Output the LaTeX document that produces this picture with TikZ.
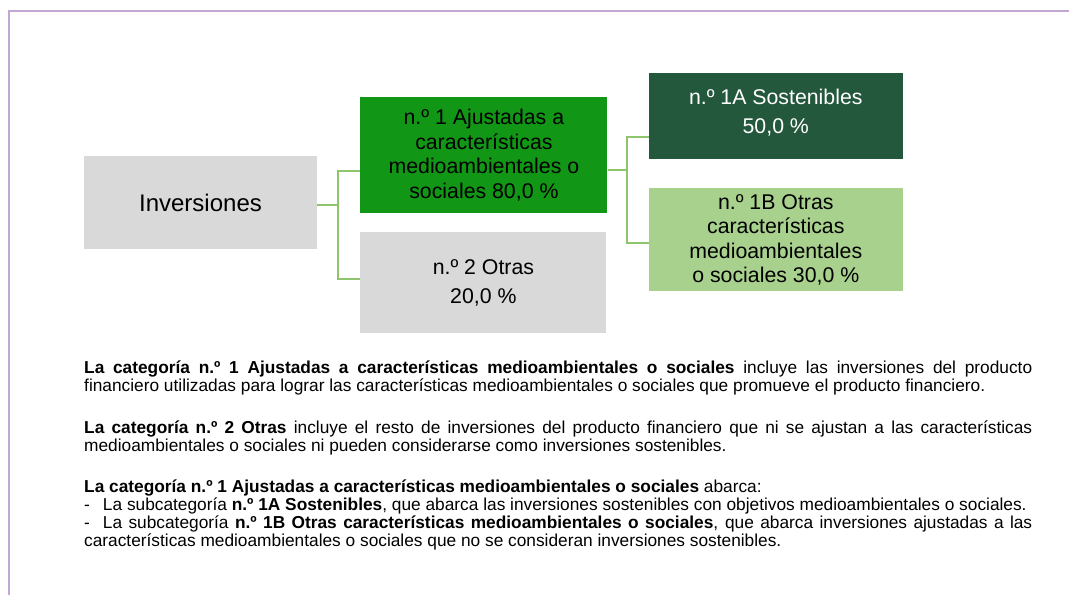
\documentclass[tikz,border=0pt]{standalone}
\usepackage{fontspec}
\setmainfont{Liberation Sans}
\usetikzlibrary{positioning}
\definecolor{boxgrey}{RGB}{217,217,217}
\definecolor{catgreen}{RGB}{18,150,22}
\definecolor{subdark}{RGB}{36,88,60}
\definecolor{sublight}{RGB}{169,209,142}
\definecolor{linkgreen}{RGB}{142,196,108}
\definecolor{framelilac}{RGB}{196,166,210}
\tikzstyle{box} = [rectangle, draw=none, inner sep=0pt, align=center, font=\fontsize{21.3}{24.5}\selectfont]
\tikzstyle{link} = [draw=linkgreen, line width=2pt]
\tikzstyle{frameline} = [draw=framelilac, line width=2.5pt]
\tikzstyle{notes} = [inner sep=0pt, text width=948pt, align=justify, font=\fontsize{17.3}{18}\selectfont]

\begin{document}
\begin{tikzpicture}[x=1pt, y=-1pt]
\useasboundingbox (0,0) rectangle (1069,595);
\draw[frameline] (9,595) -- (9,11) -- (1069,11);

\node[box, fill=boxgrey, minimum width=233pt, minimum height=93pt, font=\fontsize{24}{28}\selectfont] (inv) at (200.5,202.5) {Inversiones};
\node[box, fill=catgreen, minimum width=247pt, minimum height=116pt, right=43pt of inv.north east, anchor=north west, yshift=59pt] (cat1) {n.º 1 Ajustadas a\\características\\medioambientales o\\sociales 80,0 \%};
\node[box, fill=boxgrey, minimum width=246pt, minimum height=101pt, below=19pt of cat1.south west, anchor=north west] (cat2) {n.º 2 Otras\\[4.5pt]20,0 \%};
\node[box, fill=subdark, text=white, minimum width=254pt, minimum height=86pt, right=41pt of cat1.north east, anchor=north west, yshift=24pt] (sub1a) {n.º 1A Sostenibles\\[4.5pt]50,0 \%\\[-16pt]};
\node[box, fill=sublight, minimum width=254pt, minimum height=103pt, below=29pt of sub1a.south west, anchor=north west] (sub1b) {n.º 1B Otras\\características\\medioambientales\\o sociales 30,0 \%};

\draw[link] ([yshift=-2pt]inv.east) -- ++(21pt,0) coordinate (fork1);
\draw[link] (fork1) |- ([yshift=-16pt]cat1.west);
\draw[link] (fork1) |- ([yshift=4pt]cat2.west);
\draw[link] ([yshift=-15pt]cat1.east) -- ++(19pt,0) coordinate (fork2);
\draw[link] (fork2) |- ([yshift=-21pt]sub1a.west);
\draw[link] (fork2) |- ([yshift=-3pt]sub1b.west);

\node[notes, anchor=north west] (text) at (84,361) {\parindent=0pt
\textbf{La categoría n.º 1 Ajustadas a características medioambientales o sociales} incluye las inversiones del producto\linebreak financiero utilizadas para lograr las características medioambientales o sociales que promueve el producto financiero.\par\vspace{23.5pt}
\textbf{La categoría n.º 2 Otras} incluye el resto de inversiones del producto financiero que ni se ajustan a las características\linebreak medioambientales o sociales ni pueden considerarse como inversiones sostenibles.\par\vspace{23.5pt}
\textbf{La categoría n.º 1 Ajustadas a características medioambientales o sociales} abarca:\\
-\hspace{13pt}La subcategoría \textbf{n.º 1A Sostenibles}, que abarca las inversiones sostenibles con objetivos medioambientales o sociales.\\
-\hspace{13pt}La subcategoría \textbf{n.º 1B Otras características medioambientales o sociales}, que abarca inversiones ajustadas a las\linebreak características medioambientales o sociales que no se consideran inversiones sostenibles.};
\end{tikzpicture}
\end{document}
